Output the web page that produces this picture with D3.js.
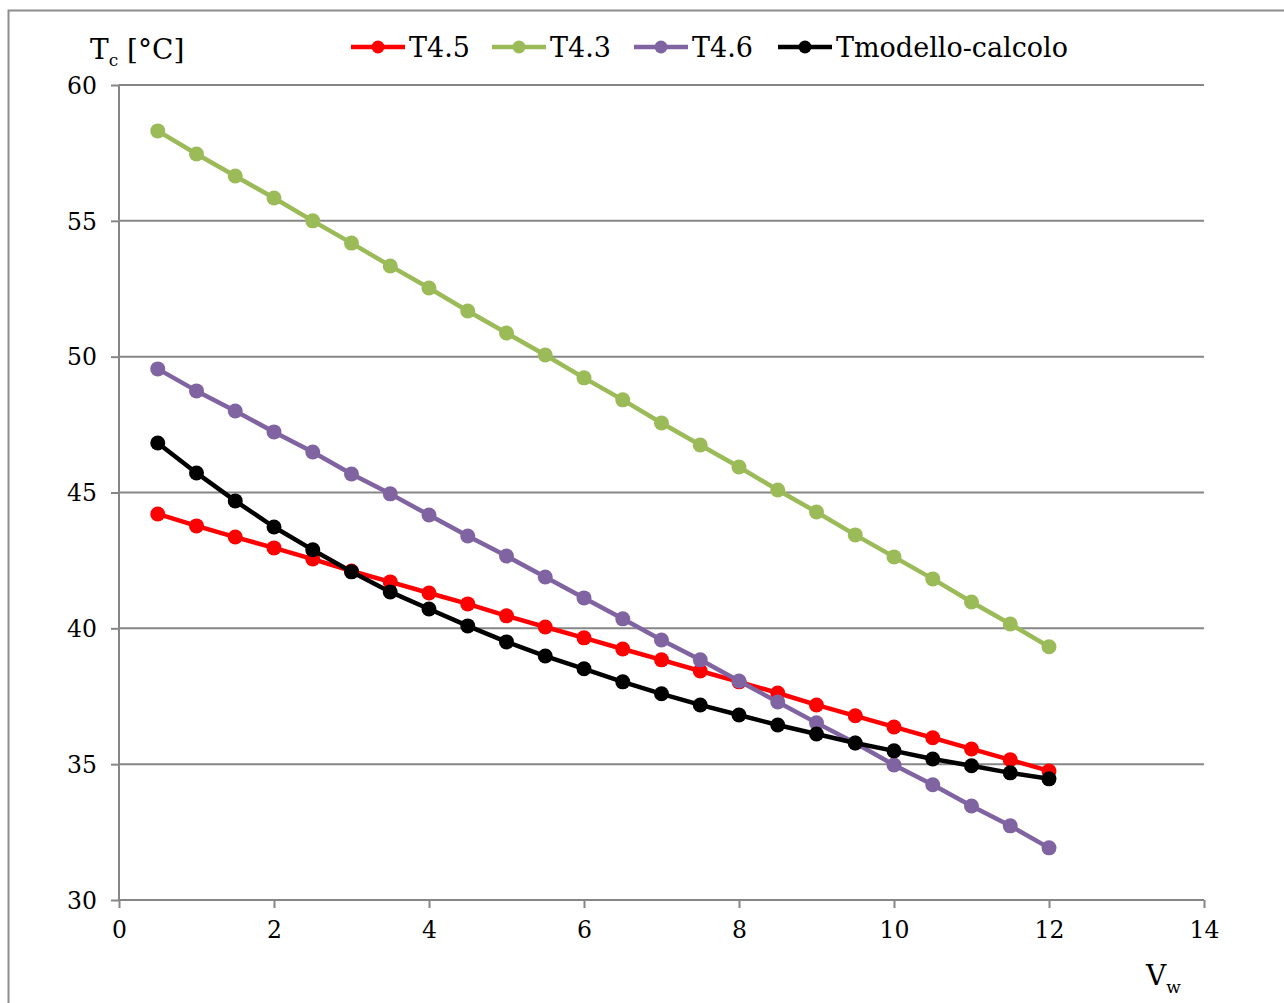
<!DOCTYPE html>
<html>
<head>
<meta charset="utf-8">
<script src="https://cdn.jsdelivr.net/npm/d3@7"></script>
<style>
  html, body { margin: 0; padding: 0; background: #fff; }
  svg text { font-family: "DejaVu Serif", "Liberation Serif", serif; fill: #000; }
</style>
</head>
<body>
<svg id="chart" width="1284" height="1003"></svg>
<script>
// Wind speed samples (x axis)
const vw = [0.5, 1, 1.5, 2, 2.5, 3, 3.5, 4, 4.5, 5, 5.5, 6, 6.5, 7, 7.5, 8, 8.5, 9, 9.5, 10, 10.5, 11, 11.5, 12];

// Cell temperature series [°C]
const t45 = [44.21, 43.77, 43.36, 42.96, 42.55, 42.11, 41.71, 41.30, 40.90, 40.46, 40.05, 39.65,
             39.24, 38.84, 38.43, 38.03, 37.62, 37.18, 36.78, 36.37, 35.97, 35.56, 35.16, 34.75];
const t43 = [58.31, 57.46, 56.65, 55.84, 55.00, 54.18, 53.34, 52.53, 51.68, 50.87, 50.06, 49.22,
             48.41, 47.56, 46.75, 45.94, 45.09, 44.28, 43.44, 42.63, 41.82, 40.97, 40.16, 39.32];
const t46 = [49.55, 48.74, 48.00, 47.23, 46.49, 45.68, 44.95, 44.17, 43.40, 42.66, 41.89, 41.12,
             40.35, 39.57, 38.84, 38.06, 37.29, 36.52, 35.78, 34.97, 34.24, 33.46, 32.73, 31.92];
const tModel = [46.82, 45.72, 44.69, 43.73, 42.89, 42.08, 41.34, 40.71, 40.09, 39.50, 38.98, 38.51,
                38.03, 37.59, 37.18, 36.81, 36.44, 36.11, 35.78, 35.49, 35.19, 34.94, 34.68, 34.46];

const seriesNames = ["T4.5", "T4.3", "T4.6", "Tmodello-calcolo"];
const seriesColors = ["#ff0000", "#9bbb59", "#8064a2", "#000000"];
const seriesValues = [t45, t43, t46, tModel];

const xTicks = [0, 2, 4, 6, 8, 10, 12, 14];
const yTicks = [30, 35, 40, 45, 50, 55, 60];

const svg = d3.select("#chart");
const grid = "#868686";

// outer chart frame
svg.append("rect")
  .attr("x", 8.5).attr("y", 10.5).attr("width", 1290).attr("height", 1010)
  .attr("fill", "none").attr("stroke", "#8c8c8c").attr("stroke-width", 2);

const x = d3.scaleLinear().domain([0, 14]).range([119, 1204]);
const y = d3.scaleLinear().domain([30, 60]).range([900, 85]);

// horizontal gridlines
svg.append("g").selectAll("line").data(yTicks.filter(d => d > 30)).join("line")
  .attr("x1", x(0)).attr("x2", x(14))
  .attr("y1", d => y(d)).attr("y2", d => y(d))
  .attr("stroke", grid).attr("stroke-width", 2);

// y axis
const yAxis = svg.append("g").attr("transform", `translate(${x(0)},0)`)
  .call(d3.axisLeft(y).tickValues(yTicks).tickSize(8).tickPadding(14).tickFormat(d3.format("d")));
yAxis.select(".domain").attr("stroke", grid).attr("stroke-width", 2).attr("d", `M0,${y(30)}V${y(60)}`);
yAxis.selectAll(".tick line").attr("stroke", grid).attr("stroke-width", 2);
yAxis.selectAll(".tick text").style("font-size", "23.5px").style("font-family", "DejaVu Serif").attr("dy", "0.35em");

// x axis
const xAxis = svg.append("g").attr("transform", `translate(0,${y(30)})`)
  .call(d3.axisBottom(x).tickValues(xTicks).tickSize(8).tickPadding(13).tickFormat(d3.format("d")));
xAxis.select(".domain").attr("stroke", grid).attr("stroke-width", 2).attr("d", `M${x(0)},0H${x(14)}`);
xAxis.selectAll(".tick line").attr("stroke", grid).attr("stroke-width", 2);
xAxis.selectAll(".tick text").style("font-size", "23.5px").style("font-family", "DejaVu Serif");

// series lines and markers
const line = d3.line().x((d, i) => x(vw[i])).y(d => y(d));
seriesValues.forEach((vals, k) => {
  const g = svg.append("g");
  g.append("path").datum(vals)
    .attr("d", line).attr("fill", "none")
    .attr("stroke", seriesColors[k]).attr("stroke-width", 4.5).attr("stroke-linejoin", "round");
  g.selectAll("circle").data(vals).join("circle")
    .attr("cx", (d, i) => x(vw[i])).attr("cy", d => y(d)).attr("r", 7.5)
    .attr("fill", seriesColors[k]);
});

// legend
const legendX = [351, 492, 634, 778];
seriesNames.forEach((name, k) => {
  const g = svg.append("g").attr("transform", `translate(${legendX[k]},47)`);
  g.append("line").attr("x1", 0).attr("x2", 54).attr("y1", 0).attr("y2", 0)
    .attr("stroke", seriesColors[k]).attr("stroke-width", 4.5);
  g.append("circle").attr("cx", 27).attr("cy", 0).attr("r", 6.5).attr("fill", seriesColors[k]);
  g.append("text").attr("x", 58).attr("y", 10).style("font-size", "27px").text(name);
});

// axis titles
const yt = svg.append("text").attr("x", 90).attr("y", 59).style("font-size", "28px");
yt.append("tspan").text("T");
yt.append("tspan").attr("dy", 7).style("font-size", "17px").text("c");
yt.append("tspan").attr("dy", -7).text(" [°C]");

const xt = svg.append("text").attr("x", 1146).attr("y", 985).style("font-size", "28px");
xt.append("tspan").text("V");
xt.append("tspan").attr("dy", 8).style("font-size", "17px").text("w");
</script>
</body>
</html>
